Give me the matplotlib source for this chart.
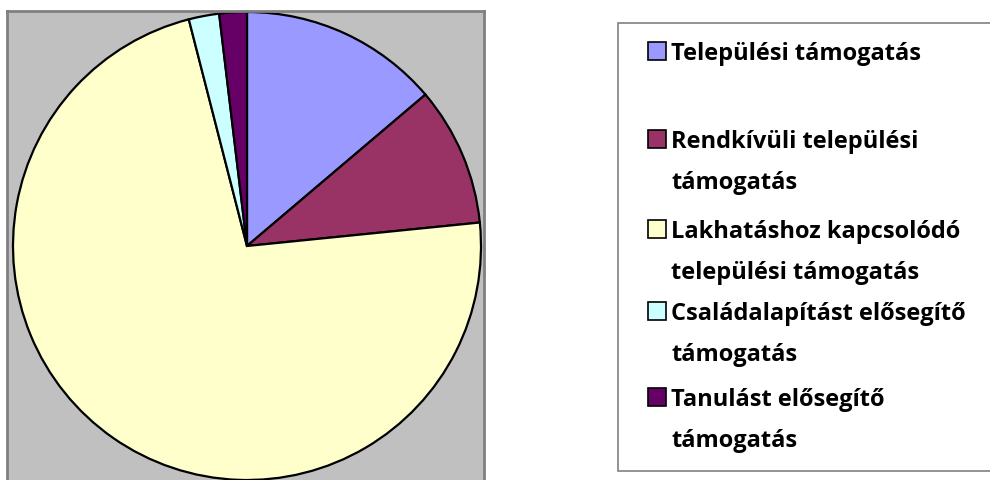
import matplotlib
matplotlib.use('Agg')
import matplotlib.pyplot as plt
from matplotlib.patches import Rectangle

labels = ['Települési támogatás',
          'Rendkívüli települési\ntámogatás',
          'Lakhatáshoz kapcsolódó\ntelepülési támogatás',
          'Családalapítást elősegítő\ntámogatás',
          'Tanulást elősegítő\ntámogatás']
values = [13.8, 9.6, 72.6, 2.1, 1.9]
colors = ['#9999FF', '#993366', '#FFFFCC', '#CCFFFF', '#660066']

W, H = 990, 481
fig = plt.figure(figsize=(W / 100, H / 100), dpi=100)

# pie area: gray box from x=7..484, top at y=12, runs off the bottom
x0, x1, ytop, ybot = 7, 484, 12, 492
ax = fig.add_axes([x0 / W, 1 - ybot / H, (x1 - x0) / W, (ybot - ytop) / H])
ax.pie(values, colors=colors, startangle=90, counterclock=False, frame=True,
       wedgeprops={'edgecolor': 'black', 'linewidth': 1.6})
cx, cy, r = 247, 247, 234
ax.set_xlim((x0 - cx) / r, (x1 - cx) / r)
ax.set_ylim(-(ybot - cy) / r, (cy - ytop) / r)
ax.set_aspect('auto')
ax.set_xticks([])
ax.set_yticks([])
ax.set_facecolor('#C0C0C0')
for s in ax.spines.values():
    s.set_color('#808080')
    s.set_linewidth(2)

# legend box
lx, ltop, lbot = 618, 24, 472
fig.patches.append(Rectangle((lx / W, 1 - lbot / H), (W + 10 - lx) / W, (lbot - ltop) / H,
                             transform=fig.transFigure, facecolor='white',
                             edgecolor='#808080', linewidth=1.2))

ys = [52, 140, 230, 312, 398]
font = {'family': 'Open Sans', 'weight': 'bold', 'size': 17}
for lab, col, y in zip(labels, colors, ys):
    fig.patches.append(Rectangle((648 / W, 1 - (y + 9) / H), 18 / W, 18 / H,
                                 transform=fig.transFigure, facecolor=col,
                                 edgecolor='black', linewidth=1.2))
    for i, line in enumerate(lab.split('\n')):
        fig.text(671 / W, 1 - (y + 8 + i * 41) / H, line, fontdict=font,
                 va='baseline', ha='left')

fig.savefig('out.png', dpi=100)
